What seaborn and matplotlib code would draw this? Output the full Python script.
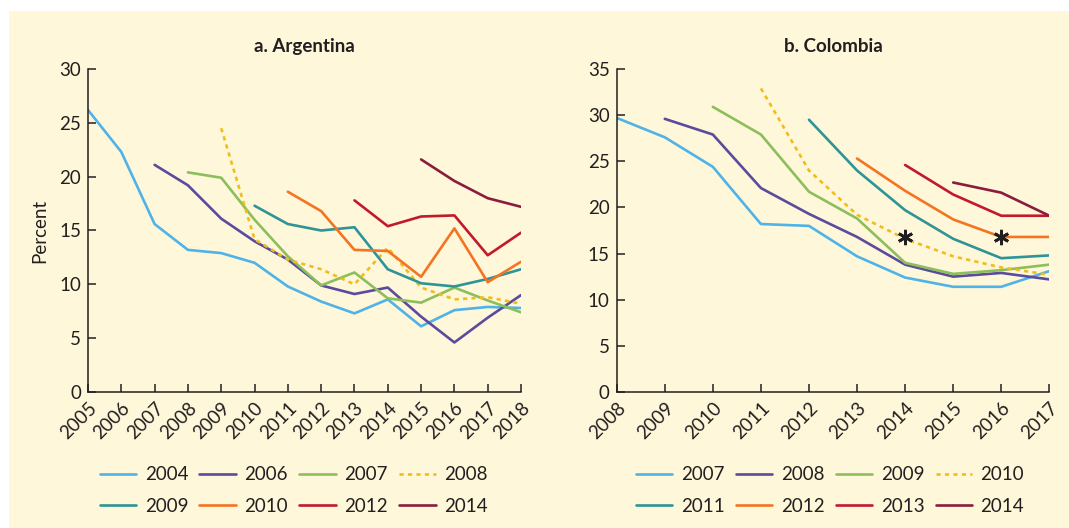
import matplotlib
matplotlib.use("Agg")
import matplotlib.pyplot as plt
import matplotlib.patches as patches
import seaborn as sns
import pandas as pd

# Argentina, cohorts tracked 2005-2018 (each series ends in 2018)
arg_years = list(range(2005, 2019))
arg_cohorts = ["2004", "2006", "2007", "2008", "2009", "2010", "2012", "2014"]
arg_2004 = [26.2, 22.3, 15.6, 13.2, 12.9, 12.0, 9.8, 8.4, 7.3, 8.6, 6.1, 7.6, 7.9, 7.8]
arg_2006 = [21.1, 19.2, 16.1, 14.0, 12.3, 9.9, 9.1, 9.7, 7.0, 4.6, 6.9, 9.0]
arg_2007 = [20.4, 19.9, 16.0, 12.6, 9.9, 11.1, 8.7, 8.3, 9.7, 8.5, 7.4]
arg_2008 = [24.5, 14.2, 12.3, 11.4, 10.0, 13.4, 9.7, 8.6, 8.8, 8.2]
arg_2009 = [17.3, 15.6, 15.0, 15.3, 11.4, 10.1, 9.8, 10.5, 11.4]
arg_2010 = [18.6, 16.8, 13.2, 13.1, 10.7, 15.2, 10.2, 12.1]
arg_2012 = [17.8, 15.4, 16.3, 16.4, 12.7, 14.8]
arg_2014 = [21.6, 19.6, 18.0, 17.2]

# Colombia, cohorts tracked 2008-2017 (each series ends in 2017)
col_years = list(range(2008, 2018))
col_cohorts = ["2007", "2008", "2009", "2010", "2011", "2012", "2013", "2014"]
col_2007 = [29.7, 27.6, 24.4, 18.2, 18.0, 14.7, 12.4, 11.4, 11.4, 13.1]
col_2008 = [29.6, 27.9, 22.1, 19.3, 16.8, 13.8, 12.5, 12.9, 12.2]
col_2009 = [30.9, 27.9, 21.7, 18.8, 14.0, 12.8, 13.2, 13.8]
col_2010 = [32.9, 24.0, 19.2, 16.6, 14.7, 13.5, 12.7]
col_2011 = [29.5, 24.0, 19.7, 16.6, 14.5, 14.8]
col_2012 = [25.3, 21.8, 18.7, 16.8, 16.8]
col_2013 = [24.6, 21.4, 19.1, 19.1]
col_2014 = [22.7, 21.6, 19.1]
col_star_years = [2014, 2016]
col_star_values = [16.8, 16.8]

colors = ["#4fb3e8", "#5a4b9c", "#8dbe5c", "#f2bd1c",
          "#2e9496", "#f47421", "#c01a2c", "#8a1c3c"]
bg = "#fef7da"
ink = "#231f20"


def long_frame(years, cohorts, series):
    rows = []
    for name, vals in zip(cohorts, series):
        for yr, v in zip(years[-len(vals):], vals):
            rows.append({"year": yr, "value": v, "cohort": name})
    return pd.DataFrame(rows)


def draw_panel(ax, df, cohorts, title, ymax, yticks, xyears, dashed, leg_x):
    ax.set_facecolor(bg)
    pal = dict(zip(cohorts, colors))
    dashes = {c: "" for c in cohorts}
    dashes[dashed] = (1.6, 1.6)
    sns.lineplot(data=df, x="year", y="value", hue="cohort", style="cohort",
                 hue_order=cohorts, style_order=cohorts, palette=pal,
                 dashes=dashes, linewidth=1.9, ax=ax)
    ax.set_xlim(xyears[0], xyears[-1])
    ax.set_ylim(0, ymax)
    ax.set_xticks(xyears)
    ax.set_xticklabels([str(y) for y in xyears], rotation=45,
                       ha="right", rotation_mode="anchor")
    ax.set_yticks(yticks)
    ax.tick_params(direction="in", length=6, width=1.1, colors=ink,
                   labelsize=13.5, pad=5)
    for s in ["left", "bottom"]:
        ax.spines[s].set_color(ink)
        ax.spines[s].set_linewidth(1.1)
    sns.despine(ax=ax)
    ax.set_xlabel("")
    ax.set_ylabel("")
    ax.set_title(title, fontsize=13.5, fontweight="bold", color=ink, pad=12)

    # legend filled row by row: 4 columns, 2 rows
    handles, labels = ax.get_legend_handles_labels()
    order = [0, 4, 1, 5, 2, 6, 3, 7]
    ax.legend([handles[i] for i in order], [labels[i] for i in order],
              loc="center", bbox_to_anchor=(leg_x, -0.305), ncol=4,
              frameon=False, fontsize=13.5, handlelength=1.95,
              handletextpad=0.45, columnspacing=0.6, labelspacing=0.75)


sns.set_style("ticks")
plt.rcParams["font.family"] = ["Lato", "DejaVu Sans"]
plt.rcParams["text.color"] = ink

fig = plt.figure(figsize=(10.69, 5.28), dpi=100)
fig.patches.append(patches.Rectangle((9 / 1069, 0), 1, 1 - 11 / 528,
                                     transform=fig.transFigure,
                                     facecolor=bg, edgecolor="none", zorder=-1))

ax1 = fig.add_axes([0.0823, 0.2576, 0.4051, 0.6117])
ax2 = fig.add_axes([0.5769, 0.2576, 0.4047, 0.6117])

arg_df = long_frame(arg_years, arg_cohorts,
                    [arg_2004, arg_2006, arg_2007, arg_2008,
                     arg_2009, arg_2010, arg_2012, arg_2014])
col_df = long_frame(col_years, col_cohorts,
                    [col_2007, col_2008, col_2009, col_2010,
                     col_2011, col_2012, col_2013, col_2014])

draw_panel(ax1, arg_df, arg_cohorts, "a. Argentina", 30,
           range(0, 31, 5), arg_years, "2008", 0.475)
ax1.set_ylabel("Percent", fontsize=13.5, color=ink, labelpad=8)

draw_panel(ax2, col_df, col_cohorts, "b. Colombia", 35,
           range(0, 36, 5), col_years, "2010", 0.493)
ax2.plot(col_star_years, col_star_values, ls="none", marker=(6, 2, 0),
         ms=11, mew=2.0, color=ink, zorder=5)

fig.savefig("out.png", dpi=100, facecolor="white")
